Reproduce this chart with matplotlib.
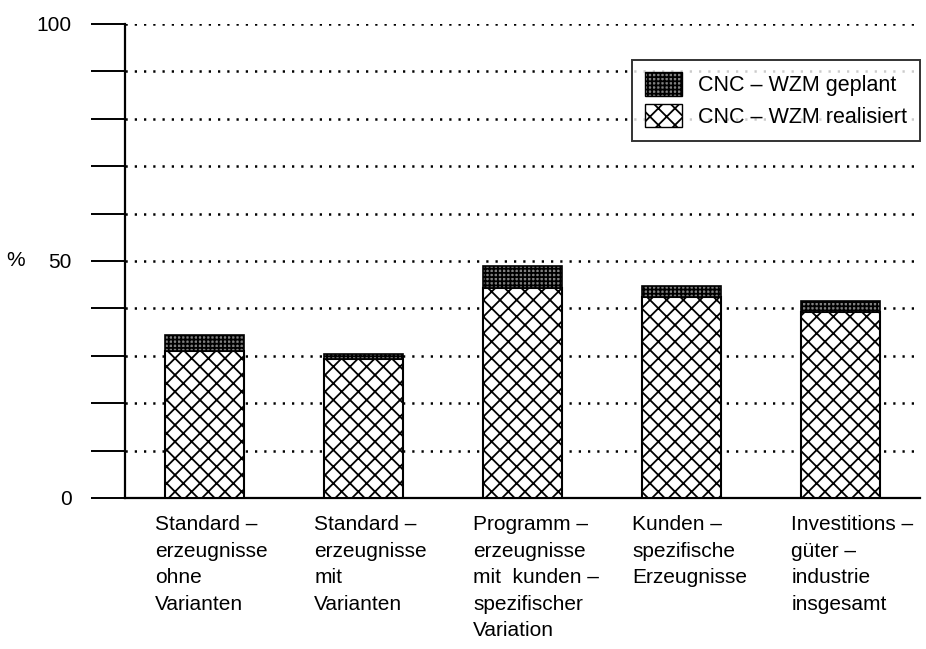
import numpy as np
import matplotlib.pyplot as plt
from matplotlib.patches import Patch

plt.rcParams['font.family'] = ['Liberation Sans', 'DejaVu Sans']
plt.rcParams['hatch.linewidth'] = 1.3

# Anteil CNC-Werkzeugmaschinen je Fertigungsart (in %)
kategorien = [
    "Standard –\nerzeugnisse\nohne\nVarianten",
    "Standard –\nerzeugnisse\nmit\nVarianten",
    "Programm –\nerzeugnisse\nmit  kunden –\nspezifischer\nVariation",
    "Kunden –\nspezifische\nErzeugnisse",
    "Investitions –\ngüter –\nindustrie\ninsgesamt",
]
realisiert = [31.0, 29.4, 44.4, 42.4, 39.2]
geplant = [3.3, 0.9, 4.5, 2.3, 2.3]   # zusätzlich geplant, oben aufgesetzt

yticks = np.arange(0, 101, 10)
ytick_labels = ["0", "", "", "", "", "50", "", "", "", "", "100"]

fig = plt.figure(figsize=(9.26, 6.49), dpi=100)
ax = fig.add_axes([0.135, 0.2327, 0.8585, 0.7304])

x = np.arange(len(kategorien))
breite = 0.5

ax.bar(x, realisiert, breite, color='white', edgecolor='black',
       linewidth=1.5, hatch='xx', zorder=3)
ax.bar(x, geplant, breite, bottom=realisiert, color='0.5', edgecolor='black',
       linewidth=1.2, hatch='++++', zorder=3)

ax.set_xlim(-0.5, 4.5)
ax.set_ylim(0, 100)
ax.set_yticks(yticks)
ax.set_yticklabels(ytick_labels, fontsize=15)
ax.tick_params(axis='y', length=24.5, width=1.4, pad=14)
ax.set_xticks([])

ax.yaxis.grid(True, color='black', linestyle=(0, (0.9, 2.8)), linewidth=1.8)
ax.set_axisbelow(True)

for s in ['top', 'right']:
    ax.spines[s].set_visible(False)
ax.spines['left'].set_linewidth(1.6)
ax.spines['bottom'].set_linewidth(1.6)

# Einheit links neben der 50
ax.text(-0.149, 0.5, "%", transform=ax.transAxes, fontsize=15,
        ha='left', va='center')

for i, text in enumerate(kategorien):
    ax.text(i - breite / 2 - 0.06, -3.6, text, fontsize=15, ha='left',
            va='top', linespacing=1.5)

handles = [
    Patch(facecolor='0.5', edgecolor='black', hatch='++++', linewidth=1.0),
    Patch(facecolor='white', edgecolor='black', hatch='xx', linewidth=1.0),
]
leg = ax.legend(handles, ["CNC – WZM geplant", "CNC – WZM realisiert"],
                loc='upper right', bbox_to_anchor=(1.0, 0.925), fontsize=15.5,
                frameon=True, fancybox=False, handlelength=1.7,
                handleheight=1.3, handletextpad=0.75, labelspacing=0.35,
                borderpad=0.6, borderaxespad=0.0)
leg.get_frame().set_edgecolor('black')
leg.get_frame().set_linewidth(1.4)
leg.set_zorder(5)

fig.savefig("out.png", dpi=100)
